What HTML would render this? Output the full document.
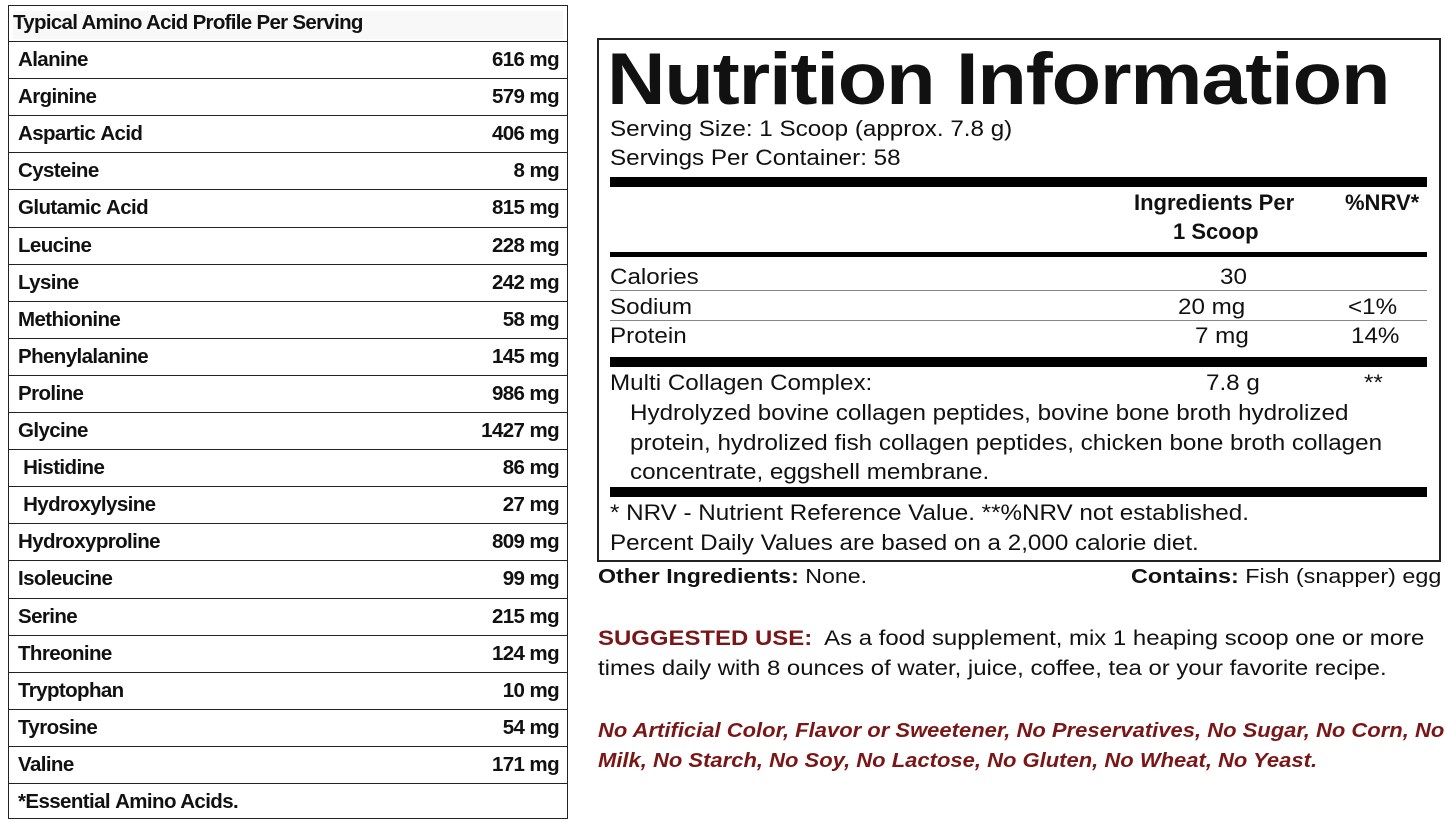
<!DOCTYPE html>
<html><head><meta charset="utf-8"><style>
body{margin:0;width:1445px;height:823px;background:#fff;position:relative;overflow:hidden;font-family:"Liberation Sans",sans-serif;color:#111}
.a{position:absolute;white-space:nowrap}
#tbl{position:absolute;left:8px;top:5px;width:558px;height:812px;border:1.5px solid #222;background:#fff}
.r{position:absolute;left:0;width:558px;border-top:1.5px solid #222;font-weight:bold;font-size:20.5px;letter-spacing:-0.6px}
.r span{position:absolute;top:6px}
.r .n{left:9px}.r .v{right:8px}
.bar{position:absolute;left:610px;width:817px;background:#000}
.t{font-size:22px;position:absolute;white-space:nowrap;color:#111;transform:scaleX(1.1);transform-origin:left}
.b{font-size:21px;position:absolute;white-space:nowrap;color:#111;transform-origin:left}
.red{color:#7a1616;font-weight:bold;font-style:italic;font-size:20.5px;transform:scaleX(1.073)}
</style></head><body>
<div id="tbl">
<div class="a" style="left:4px;top:5px;font-weight:bold;font-size:20.5px;letter-spacing:-0.7px;background:#f8f8f8;width:550px;height:28px">Typical Amino Acid Profile Per Serving</div>
</div>
<script>
var d=[["Alanine","616 mg"],["Arginine","579 mg"],["Aspartic Acid","406 mg"],["Cysteine","8 mg"],["Glutamic Acid","815 mg"],["Leucine","228 mg"],["Lysine","242 mg"],["Methionine","58 mg"],["Phenylalanine","145 mg"],["Proline","986 mg"],["Glycine","1427 mg"],[" Histidine","86 mg"],[" Hydroxylysine","27 mg"],["Hydroxyproline","809 mg"],["Isoleucine","99 mg"],["Serine","215 mg"],["Threonine","124 mg"],["Tryptophan","10 mg"],["Tyrosine","54 mg"],["Valine","171 mg"],["*Essential Amino Acids.",""]];
var t=document.getElementById('tbl'),h='';
for(var i=0;i<d.length;i++){var y=35+i*37.1;h+='<div class="r" style="top:'+y+'px;height:37px"><span class="n">'+d[i][0].replace(' ','&nbsp;')+'</span><span class="v">'+d[i][1]+'</span></div>';}
t.insertAdjacentHTML('beforeend',h);
</script>
<div style="position:absolute;left:597px;top:38px;width:840px;height:520px;border:2px solid #222"></div>
<div class="a" style="left:607px;top:38px;font-weight:bold;font-size:73px;letter-spacing:-1px;transform:scaleX(1.11);transform-origin:left">Nutrition Information</div>
<div class="t" style="left:610px;top:116px">Serving Size: 1 Scoop (approx. 7.8 g)</div>
<div class="t" style="left:610px;top:145px">Servings Per Container: 58</div>
<div class="bar" style="top:177px;height:10px"></div>
<div class="t" style="left:1134px;top:190px;font-weight:bold;transform:none">Ingredients Per</div>
<div class="t" style="left:1173px;top:219px;font-weight:bold;transform:none">1 Scoop</div>
<div class="t" style="left:1345px;top:190px;font-weight:bold;transform:none">%NRV*</div>
<div class="bar" style="top:252px;height:5px"></div>
<div class="t" style="left:610px;top:264px">Calories</div><div class="t" style="left:1220px;top:264px">30</div>
<div class="bar" style="top:290px;height:1px;background:#888"></div>
<div class="t" style="left:610px;top:294px">Sodium</div><div class="t" style="left:1178px;top:294px">20 mg</div><div class="t" style="left:1348px;top:294px">&lt;1%</div>
<div class="bar" style="top:320px;height:1px;background:#888"></div>
<div class="t" style="left:610px;top:323px">Protein</div><div class="t" style="left:1195px;top:323px">7 mg</div><div class="t" style="left:1351px;top:323px">14%</div>
<div class="bar" style="top:357px;height:10px"></div>
<div class="t" style="left:610px;top:370px">Multi Collagen Complex:</div><div class="t" style="left:1206px;top:370px">7.8 g</div><div class="t" style="left:1364px;top:370px">**</div>
<div class="t" style="left:630px;top:400px">Hydrolyzed bovine collagen peptides, bovine bone broth hydrolized</div>
<div class="t" style="left:630px;top:430px">protein, hydrolized fish collagen peptides, chicken bone broth collagen</div>
<div class="t" style="left:630px;top:459px">concentrate, eggshell membrane.</div>
<div class="bar" style="top:487px;height:10px"></div>
<div class="t" style="left:610px;top:500px">* NRV - Nutrient Reference Value. **%NRV not established.</div>
<div class="t" style="left:610px;top:530px">Percent Daily Values are based on a 2,000 calorie diet.</div>
<div class="b" style="left:598px;top:565px;font-size:20.5px;transform:scaleX(1.13)"><b>Other Ingredients:</b> None.</div>
<div class="b" style="left:1131px;top:565px;font-size:20.5px;transform:scaleX(1.14)"><b>Contains:</b> Fish (snapper) egg</div>
<div class="b" style="left:598px;top:627px;transform:scaleX(1.14)"><b style="color:#7a1616">SUGGESTED USE:</b>&nbsp; As a food supplement, mix 1 heaping scoop one or more</div>
<div class="b" style="left:598px;top:657px;transform:scaleX(1.14)">times daily with 8 ounces of water, juice, coffee, tea or your favorite recipe.</div>
<div class="b red" style="left:598px;top:719px">No Artificial Color, Flavor or Sweetener, No Preservatives, No Sugar, No Corn, No</div>
<div class="b red" style="left:598px;top:749px">Milk, No Starch, No Soy, No Lactose, No Gluten, No Wheat, No Yeast.</div>
</body></html>
